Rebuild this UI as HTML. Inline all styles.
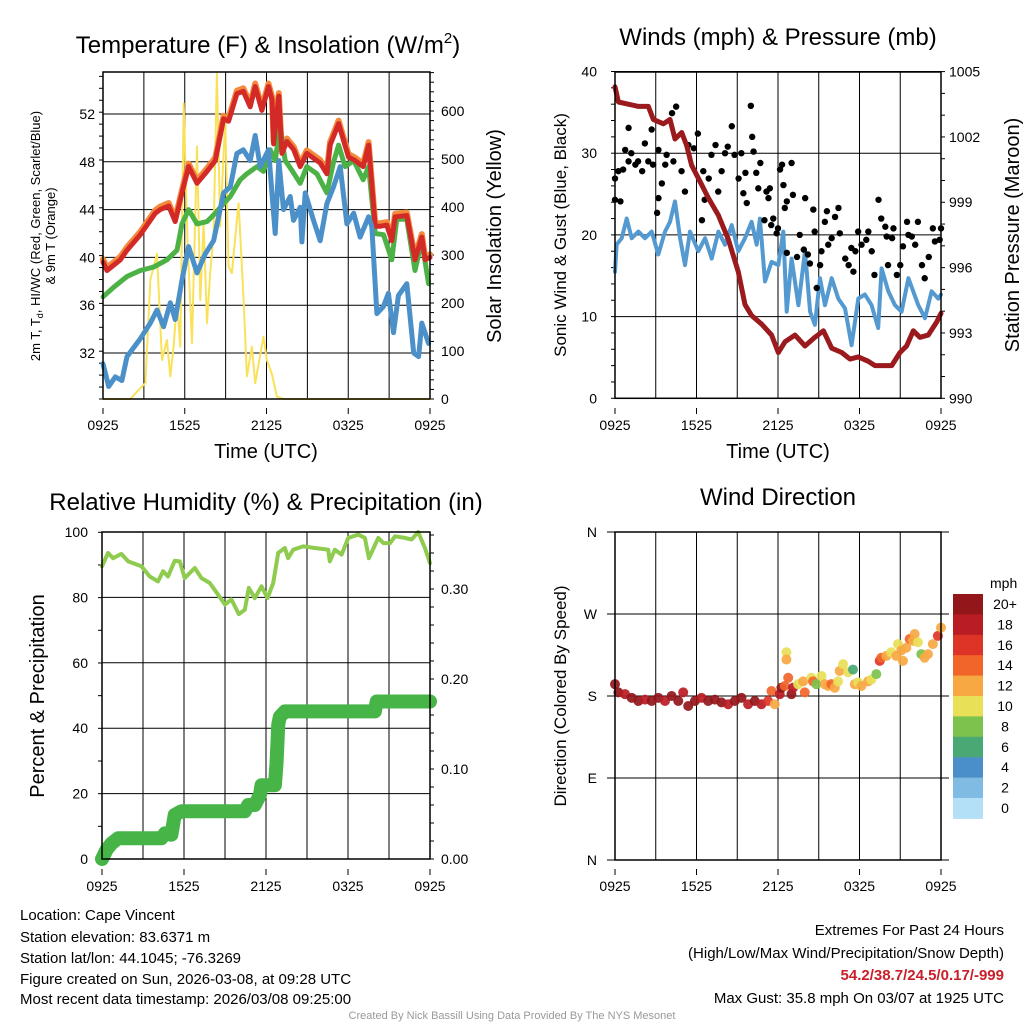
<!DOCTYPE html>
<html><head><meta charset="utf-8">
<style>
html,body{margin:0;padding:0;background:#fff;}
svg{display:block;font-family:"Liberation Sans",Arial,sans-serif;}
.t{font-size:14px;fill:#000;}
</style></head>
<body>
<svg id="s" width="1024" height="1024" viewBox="0 0 1024 1024" xmlns="http://www.w3.org/2000/svg">
<rect width="1024" height="1024" fill="#fff"/>
<text x="268" y="53" font-size="24" text-anchor="middle">Temperature (F) &amp; Insolation (W/m<tspan font-size="15" dy="-10">2</tspan><tspan dy="10">)</tspan></text>
<text x="778" y="45" font-size="24" text-anchor="middle">Winds (mph) &amp; Pressure (mb)</text>
<text x="266" y="510" font-size="24" text-anchor="middle">Relative Humidity (%) &amp; Precipitation (in)</text>
<text x="778" y="505" font-size="24" text-anchor="middle">Wind Direction</text>

<text x="266" y="458" font-size="20" text-anchor="middle">Time (UTC)</text>
<text x="778" y="458" font-size="20" text-anchor="middle">Time (UTC)</text>

<text transform="translate(40,236) rotate(-90)" font-size="13" text-anchor="middle">2m T, T<tspan font-size="9" dy="3">d</tspan><tspan dy="-3">, HI/WC (Red, Green, Scarlet/Blue)</tspan></text>
<text transform="translate(55,236) rotate(-90)" font-size="13" text-anchor="middle">&amp; 9m T (Orange)</text>
<text transform="translate(501,236) rotate(-90)" font-size="20" text-anchor="middle">Solar Insolation (Yellow)</text>
<text transform="translate(566,235) rotate(-90)" font-size="17" text-anchor="middle">Sonic Wind &amp; Gust (Blue, Black)</text>
<text transform="translate(1019,235) rotate(-90)" font-size="20" text-anchor="middle">Station Pressure (Maroon)</text>
<text transform="translate(44,696) rotate(-90)" font-size="20" text-anchor="middle">Percent &amp; Precipitation</text>
<text transform="translate(566,696) rotate(-90)" font-size="17" text-anchor="middle">Direction (Colored By Speed)</text>

<text x="990" y="588" font-size="14">mph</text>

<g font-size="15">
<text x="20" y="920">Location: Cape Vincent</text>
<text x="20" y="942">Station elevation: 83.6371 m</text>
<text x="20" y="963">Station lat/lon: 44.1045; -76.3269</text>
<text x="20" y="984">Figure created on Sun, 2026-03-08, at 09:28 UTC</text>
<text x="20" y="1004">Most recent data timestamp: 2026/03/08 09:25:00</text>
</g>
<g font-size="15" text-anchor="end">
<text x="1004" y="935">Extremes For Past 24 Hours</text>
<text x="1004" y="958">(High/Low/Max Wind/Precipitation/Snow Depth)</text>
<text x="1004" y="980" fill="#c8202a" font-weight="bold">54.2/38.7/24.5/0.17/-999</text>
<text x="1004" y="1003">Max Gust: 35.8 mph On 03/07 at 1925 UTC</text>
</g>
<text x="512" y="1019" font-size="11" fill="#999" text-anchor="middle">Created By Nick Bassill Using Data Provided By The NYS Mesonet</text>
<g id="charts"></g>
</svg>
<script>
// ---------- data ----------
const xTickLabels = ["0925","1525","2125","0325","0925"];
const tempTicks = [32,36,40,44,48,52];
const insolTicks = [0,100,200,300,400,500,600];
const windTicks = [0,10,20,30,40];
const presTicks = [990,993,996,999,1002,1005];
const rhTicks = [0,20,40,60,80,100];
const precipTicks = [0,0.1,0.2,0.3];
const precipTickLabels = ["0.00","0.10","0.20","0.30"];
const dirTicks = [0,90,180,270,360];
const dirTickLabels = ["N","E","S","W","N"];
const speedBins = ["0","2","4","6","8","10","12","14","16","18","20+"];
const speedColors = ["#b3e0f7","#7fbbe3","#4a8fc7","#4aa874","#7cc24d","#e8e057","#f7a843","#f2652a","#de3428","#b91c23","#93161a"];

const redH = [0,0.29,1.27,1.76,2.74,3.84,4.2,4.82,5.3,5.8,6.28,6.9,7.63,8.24,8.85,9.22,9.83,10.3,10.8,11.17,11.66,12.15,12.4,12.52,12.9,13.13,13.5,14,14.47,14.96,15.94,16.43,16.67,17.29,17.65,18.02,18.5,19.1,19.49,19.98,20.34,20.83,21.2,21.44,22.3,22.9,23.4,23.64,24];
const redV = [39.6,38.9,39.8,40.6,41.9,43.7,44,44.3,43,45.4,47.6,46.2,47.2,48.1,51.6,51.4,53.7,53.9,52.6,54.3,52.3,54.3,53.2,49.5,53.5,48.7,49.7,49,47.6,48.7,47.9,47,49.4,51.2,49.8,48.4,48.1,47.6,49.4,42.6,42.6,42.7,41.4,43.4,43.5,39.8,41.7,39.8,40];
const greenH = [0,0.78,1.76,2.74,3.72,4.69,5.43,5.8,6.28,6.9,7.63,8.24,8.85,9.34,10.07,10.56,11.3,11.78,12.27,12.64,13,13.37,13.86,14.47,14.96,15.7,16.43,16.9,17.29,17.77,18.4,19.1,19.49,19.98,20.59,21.2,21.56,22.3,22.9,23.4,23.9];
const greenV = [36.7,37.5,38.4,38.9,39.2,39.8,40.6,42.8,44,42.8,43,43.7,44.5,45.1,46.5,47,47.6,47.2,49,48.1,50.9,48.1,47.3,46.2,47.6,47,45.4,47.9,49.4,47.6,48.1,46.5,47.6,42,41.9,39.8,43.2,43.2,38.9,41.4,37.8];
const blueH = [0,0.42,0.9,1.39,1.76,2.74,3.47,3.96,4.45,4.94,5.3,5.8,6.28,6.9,7.51,8.12,8.85,9.34,9.83,10.3,10.8,11.17,11.54,12.15,12.64,12.9,13.25,13.74,13.98,14.47,14.6,14.84,15.45,15.94,16.43,16.92,17.41,17.9,18.4,18.87,19.49,19.73,20.1,20.59,20.95,21.32,21.68,22.3,22.8,23.16,23.4,23.9];
const blueV = [31.1,29.2,30,29.7,31.7,33.2,34.5,35.6,34.2,36.2,34.8,38.1,40.9,38.7,40.3,41.4,45.4,45.9,48.7,49,48.1,50.2,47.6,49,42,48.1,44,45.1,43.1,44.2,41.3,45.4,43.1,41.4,44.5,45.9,47.6,42.8,43.7,41.7,43.4,42.6,35.3,35.9,37,33.7,36.8,37.8,32,31.7,34.5,32.8];
const solarH = [0,2.0,2.62,3.11,3.47,3.96,4.33,4.69,4.94,5.18,5.43,5.67,5.92,6.21,6.53,6.9,7.14,7.38,7.63,7.87,8.12,8.36,8.6,8.97,9.22,9.46,9.83,9.95,10.32,10.56,10.93,11.17,11.78,12.03,12.39,12.76,13.25,24];
const solarV = [0,0,19,33,248,303,81,123,47,109,206,109,616,324,116,526,206,366,158,262,345,678,359,581,276,262,373,408,206,47,109,33,130,81,53,5,0,0];

const pressH = [0,0.25,0.98,1.72,2.45,2.82,3.56,4.05,4.42,4.91,5.28,5.64,6.38,6.87,7.61,8.34,9.08,9.57,10.06,10.8,11.53,12.02,12.52,13.25,13.99,14.72,15.34,15.95,16.69,17.3,17.91,18.65,19.14,19.63,20.37,20.98,21.47,21.96,22.45,23.06,23.68,24];
const pressV = [1004.3,1003.6,1003.5,1003.4,1003.4,1002.8,1002.6,1002.8,1001.9,1002.2,1001.6,1000.7,999.8,999.2,998.4,997.3,995.8,994.3,993.8,993.4,992.9,992.1,992.6,992.9,992.4,992.8,993.1,992.3,992.1,991.8,991.9,991.7,991.5,991.5,991.5,992.1,992.4,993.1,992.8,992.9,993.5,993.9];
const windH = [0,0.12,0.49,0.86,1.23,1.72,2.21,2.7,3.19,3.68,4.05,4.42,4.79,5.15,5.52,6.13,6.63,7.12,7.61,8.1,8.59,9.08,9.57,10.06,10.43,10.67,11.04,11.53,12.02,12.39,12.64,13,13.5,13.99,14.36,14.72,15.09,15.46,15.95,16.44,16.93,17.42,17.91,18.4,18.89,19.38,19.63,20.12,20.61,21.1,21.6,22.33,22.82,23.31,23.8,24];
const windV = [15.5,18.8,19.6,22,19.6,20.4,19.6,20.4,17.6,20.4,21.6,24.1,19.6,16.3,20.4,18,19.6,17.1,20.4,18.8,21.2,18,19.6,21.6,18.8,22,14.3,16.7,16.3,20.4,10.6,17.1,11.4,18,10.6,9,14.7,11.4,14.7,12.2,11,6.5,12.2,12.7,11.4,8.6,15.9,13.1,11.4,10.6,14.7,11.4,9.8,13.1,12.2,12.7];
const gustH = [0,0.4,0,0.25,0.6,1,0.75,1.2,1,1.5,1.7,2,2.2,2.45,2.7,2.8,3.1,3.2,3.2,3.45,3.7,3.8,4.2,4.5,4.3,4.9,5.15,5.4,5.8,6.1,6.4,6.5,6.9,6.6,7.1,7.4,7.6,7.85,8.1,8.3,8.6,8.8,9.1,9.3,9.45,9.6,9.7,10,10.1,10.2,10.4,10.55,10.7,11,11.15,11.3,11.4,11.5,11.65,11.9,12,12.15,12.3,12.4,12.5,12.65,13,13.1,12.65,13.4,13.6,13.9,14,14.2,14.35,14.6,14.7,14.85,15.1,15.2,15.45,15.6,15.7,15.95,16.2,16.45,16.55,16.95,17.2,17.4,17.55,17.7,17.9,18.15,18.5,18.65,18.9,19.1,19.4,19.6,19.9,20,20.1,20.4,20.5,20.75,21,21.2,21.5,21.6,21.85,22.1,22.3,22.6,22.8,23.1,23.4,23.55,23.9,24];
const gustV = [24.3,24.1,26.9,27.8,28,29,30.4,30,33.1,28.6,29,27.8,31.2,29,32.9,28.6,22.7,24.5,30.4,26.3,28.6,29.8,34.9,35.7,29,27.8,25.3,31,30.6,32.4,21.8,27.8,26.9,24.3,29.8,31,25.3,27.8,30,30.8,33.3,29.8,26.9,30,25.1,27.6,23.9,35.8,32,30.2,27.6,25.7,28.8,21.8,25.3,24.5,25.7,21.2,22,20.2,20.8,28,28.6,26.1,23.3,24.1,28.8,24.9,17.8,17.3,20,18.2,24.5,17.6,16.5,23.1,20.4,13.5,16.3,18,21.6,22.9,18.8,19.6,22.2,23.3,20.2,17.1,16.3,18.4,15.5,18,20.4,18.8,19.4,20.4,18,15.1,24.3,22,21,19.8,16.3,19.6,20.8,15.1,16.3,18.6,21.6,20,19.8,18.8,21.6,16.3,14.7,17.3,20.8,19.2,19.4,20.8];

const rhH = [0,0.44,0.81,1.42,1.92,2.88,3.49,4.1,4.47,4.83,5.32,5.69,6.05,6.79,7.28,7.89,8.5,9.0,9.47,10.01,10.45,10.74,11.18,11.67,12.11,12.53,12.89,13.38,13.62,13.99,14.72,15.57,16.55,16.67,17.04,17.53,18.02,18.75,19.24,19.53,20.22,20.59,21.08,21.44,22.17,22.66,23.14,23.63,24];
const rhV = [89.5,93.6,92,93.3,91,89.5,86.4,84.9,88,86.4,91.2,91,85.9,89,85.9,84.4,80.8,77.8,79.4,74.9,76.2,82.9,79.8,83.4,79.8,84.4,93.6,95.1,92,94.6,95.6,95.1,94.6,91,94.6,93.1,98.2,99.2,98.2,92,98.2,96.6,96.6,98.7,98.2,97.7,100,95.1,90.5];
const precipH = [0,0.32,0.68,1.17,4.35,4.6,5.08,5.32,5.81,10.45,10.7,11.18,11.55,11.67,12.65,12.77,12.84,12.89,13.01,13.38,19.97,20.1,24];
const precipV = [0,0.01,0.017,0.023,0.023,0.0285,0.027,0.049,0.053,0.053,0.06,0.06,0.071,0.082,0.082,0.106,0.13,0.149,0.158,0.164,0.164,0.175,0.175];

const dirH = [0,0.25,0.74,1.23,1.72,2.21,2.7,3.19,3.68,4.17,4.66,5.02,5.39,5.88,6.37,6.86,7.35,7.84,8.33,8.82,9.31,9.8,10.29,10.78,11.27,11.52,11.76,12.13,12.25,12.5,12.62,12.62,12.75,12.99,13.11,13.48,13.85,13.97,14.46,14.58,14.82,15.2,15.44,15.69,15.93,16.18,16.42,16.54,16.79,17.16,17.52,17.65,17.89,18.14,18.63,18.87,19.24,19.49,19.61,19.98,20.34,20.71,20.83,21.08,21.2,21.45,21.69,21.94,22.06,22.3,22.55,22.79,23.04,23.4,23.77,24];
const dirV = [193,184,182,178,174.5,176,174.5,178,174.5,180,174.5,184,169,174.5,178,174.5,176,173,171,174.5,178,171,174.5,171,174.5,185.5,171,182,189,191,228,220,200,182,189,193,196,184,200,196,193,202,193,191,193,189,196,207.5,215,206,209,193,195,191,196,198,204,218.6,222,224,228,224,237,230,218.6,233,242.5,240.6,248,239,226,222,226,237,246,255,259];
const dirSpeed = [21,21,19,21,21,19,21,21,19,21,21,19,21,21,19,21,21,21,19,21,21,19,21,19,17,15,13,19,21,15,11,13,15,21,19,11,13,15,11,15,9,11,13,13,15,13,11,13,11,11,7,13,11,13,13,11,9,17,15,13,11,13,11,13,13,13,15,13,13,11,9,13,13,13,17,13];

// ---------- helpers ----------
const NS = "http://www.w3.org/2000/svg";
const root = document.getElementById("charts");
function mk(tag, attrs, parent){
  const e = document.createElementNS(NS, tag);
  for (const k in attrs) e.setAttribute(k, attrs[k]);
  (parent || root).appendChild(e);
  return e;
}
function linear(d0,d1,r0,r1){ return v => r0 + (v-d0)*(r1-r0)/(d1-d0); }

function frame(name, x0, x1, yT, yB){
  const g = mk("g", {});
  
  
  const xs = linear(0,24,x0,x1);
  for (let h=0; h<=24; h+=3){
    const l = mk("line", {x1:xs(h), x2:xs(h), y1:yT, y2:yB, stroke:"#000", "stroke-width":1}, g);
    
    
  }
  return {g, xs};
}
function hline(g, x0, x1, y){
  const l = mk("line", {x1:x0, x2:x1, y1:y, y2:y, stroke:"#000", "stroke-width":1}, g);
  
  
}
function border(x0,x1,yT,yB,name){
  const r = mk("rect", {x:x0, y:yT, width:x1-x0, height:yB-yT, fill:"none", stroke:"#000", "stroke-width":1.5});
  
  
}
function xLabels(xs, y, name){
  xTickLabels.forEach((t,i)=>{
    const e = mk("text", {x:xs(i*6), y:y, class:"t", "text-anchor":"middle"});
    e.textContent = t;
    
    
    const tk = mk("line", {x1:xs(i*6), x2:xs(i*6), y1:y-22, y2:y-16, stroke:"#000"});
    
    
  });
}
function yLabel(x, y, txt, anchor, name){
  const e = mk("text", {x:x, y:y+5, class:"t", "text-anchor":anchor});
  e.textContent = txt;
  
  
}
function minorTicks(x, yTop, yBot, step, dir){
  for (let y=yBot; y>=yTop-0.5; y-=step){
    const t = mk("line", {x1:x, x2:x+dir*4, y1:y, y2:y, stroke:"#000"});
    
    
  }
}
function path(xsArr, ysArr, xs, ys, color, w, name){
  let d = "";
  xsArr.forEach((h,i)=>{ d += (i?"L":"M") + xs(h).toFixed(1) + "," + ys(ysArr[i]).toFixed(1); });
  const p = mk("path", {d:d, fill:"none", stroke:color, "stroke-width":w, "stroke-linejoin":"round", "stroke-linecap":"round"});
  
  
  return p;
}

// ---------- Panel 1: temperature ----------
(function(){
  const x0=103,x1=430,yT=72,yB=399;
  const {g, xs} = frame("temp", x0,x1,yT,yB);
  const yT1 = linear(32,52,353,114);
  const yS = linear(0,600,399,111);
  tempTicks.forEach(v=>{ hline(g,x0,x1,yT1(v)); yLabel(95,yT1(v),String(v),"end","temp-y-tick-label"); });
  insolTicks.forEach(v=>{ yLabel(441,yS(v),String(v),"start","insolation-y-tick-label"); });
  minorTicks(x1, yT, yB, 9.6, 1);
  minorTicks(x0, yT, yB, 11.95, -1);
  path(solarH, solarV, xs, yS, "#f9e25a", 2, "solar-insolation-line");
  path(redH, redV.map(v=>v+0.25), xs, yT1, "#f58a3c", 6, "9m-temperature-line");
  path(greenH, greenV, xs, yT1, "#4cb246", 5, "dewpoint-line");
  path(redH, redV, xs, yT1, "#d42a27", 5, "temperature-line");
  path(blueH, blueV, xs, yT1, "#4b90c8", 5, "wind-chill-line");
  border(x0,x1,yT,yB,"temp");
  xLabels(xs, 430, "temp");
})();

// ---------- Panel 2: winds ----------
(function(){
  const x0=615,x1=941,yT=72,yB=398.3;
  const {g, xs} = frame("wind", x0,x1,yT,yB);
  const yW = linear(0,40,398.3,71.5);
  const yP = linear(990,1005,398.3,71.5);
  windTicks.forEach(v=>{ hline(g,x0,x1,yW(v)); yLabel(597,yW(v),String(v),"end","wind-y-tick-label"); });
  presTicks.forEach(v=>{ yLabel(949,yP(v),String(v),"start","pressure-y-tick-label"); });
  minorTicks(x1, yT, yB, 21.78, 1);
  minorTicks(x0, yT, yB, 16.34, -1);
  path(windH, windV, xs, yW, "#5499d0", 4, "sonic-wind-line");
  gustH.forEach((h,i)=>{
    const c = mk("circle", {cx:xs(h), cy:yW(gustV[i]), r:3.2, fill:"#000"});
    
    
  });
  path(pressH, pressV, xs, yP, "#9a1a1d", 5, "station-pressure-line");
  border(x0,x1,yT,yB,"wind");
  xLabels(xs, 430, "wind");
})();

// ---------- Panel 3: RH ----------
(function(){
  const x0=102,x1=430,yT=532,yB=859;
  const {g, xs} = frame("rh", x0,x1,yT,yB);
  const yR = linear(0,100,859,532);
  const yPr = linear(0,0.1,859,769);
  rhTicks.forEach(v=>{ hline(g,x0,x1,yR(v)); yLabel(88,yR(v),String(v),"end","rh-y-tick-label"); });
  precipTicks.forEach((v,i)=>{ yLabel(441,yPr(v),precipTickLabels[i],"start","precip-y-tick-label"); });
  minorTicks(x1, yT, yB, 18, 1);
  minorTicks(x0, yT, yB, 32.67, -1);
  path(rhH, rhV, xs, yR, "#8fcb4f", 4, "relative-humidity-line");
  path(precipH, precipV, xs, yPr, "#46b447", 14, "precipitation-line");
  border(x0,x1,yT,yB,"rh");
  xLabels(xs, 891, "rh");
})();

// ---------- Panel 4: direction ----------
(function(){
  const x0=615,x1=941,yT=532,yB=860;
  const {g, xs} = frame("dir", x0,x1,yT,yB);
  const yD = linear(0,360,860,532);
  dirTicks.forEach((v,i)=>{ hline(g,x0-8,x1+8,yD(v)); yLabel(597,yD(v),dirTickLabels[i],"end","direction-y-tick-label"); });
  dirH.forEach((h,i)=>{
    const s = dirSpeed[i];
    const bin = Math.min(10, Math.floor(s/2));
    const c = mk("circle", {cx:xs(h), cy:yD(dirV[i]), r:5, fill:speedColors[bin], "fill-opacity":0.92});
    
    
  });
  border(x0,x1,yT,yB,"dir");
  xLabels(xs, 891, "dir");
  const cb = mk("g", {});
  
  
  const bh = 20.4, top = 594;
  speedBins.forEach((lab,i)=>{
    const k = speedBins.length-1-i;
    const r = mk("rect", {x:953, y:top+i*bh, width:30, height:bh+0.5, fill:speedColors[k]}, cb);
    
    
    const t = mk("text", {x:1005, y:top+i*bh+15, class:"t", "text-anchor":"middle"}, cb);
    t.textContent = speedBins[k];
    
    
  });
})();
</script>
</body></html>
